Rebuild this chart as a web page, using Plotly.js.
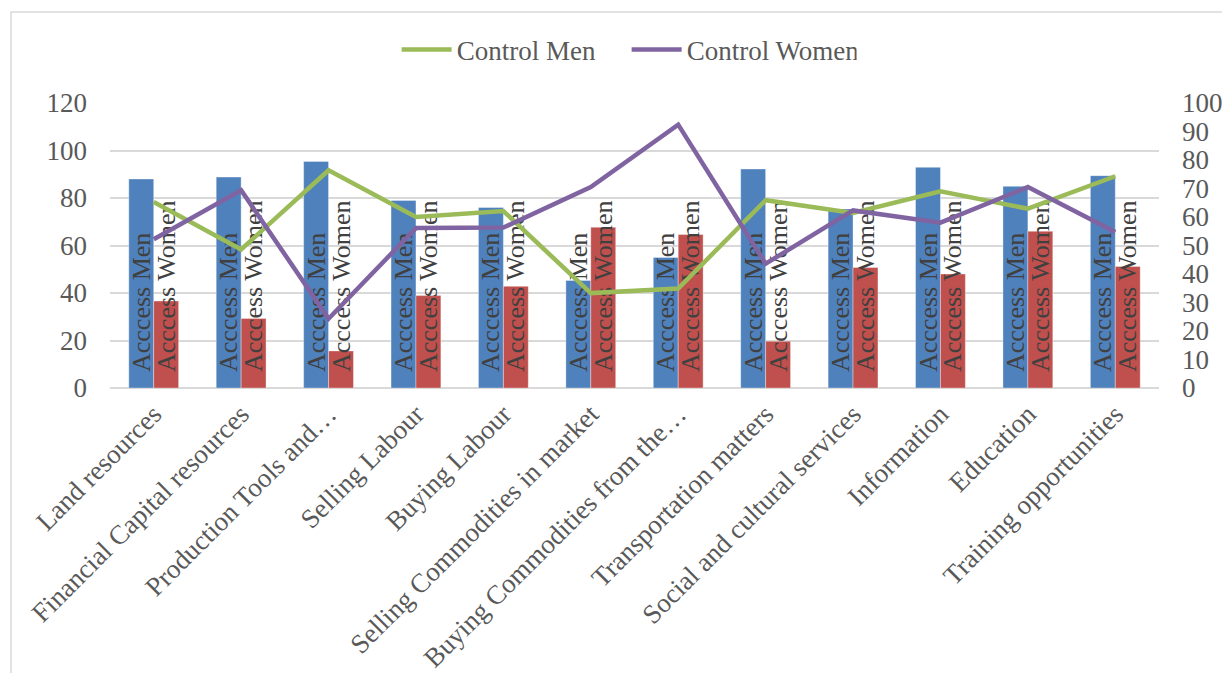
<!DOCTYPE html>
<html>
<head>
<meta charset="utf-8">
<script src="https://cdn.plot.ly/plotly-3.0.1.min.js"></script>
<style>
  html, body { margin: 0; padding: 0; background: #ffffff; }
  #chart { width: 1222px; height: 673px; }
</style>
</head>
<body>
<div id="chart"></div>
<script>
const categories = [
  "Land resources",
  "Financial Capital resources",
  "Production Tools and\u2026",
  "Selling Labour",
  "Buying Labour",
  "Selling Commodities in market",
  "Buying Commodities from the\u2026",
  "Transportation matters",
  "Social and cultural services",
  "Information",
  "Education",
  "Training opportunities"
];
const accessMen    = [88.0, 88.8, 95.4, 79.0, 76.0, 45.3, 55.0, 92.2, 75.4, 92.9, 84.9, 89.4];
const accessWomen  = [36.6, 29.3, 15.6, 38.9, 42.8, 67.7, 64.6, 19.7, 50.7, 48.0, 66.0, 51.2];
const controlMen   = [65.3, 48.6, 76.4, 60.0, 62.1, 33.3, 34.9, 65.9, 61.4, 69.0, 62.9, 74.3];
const controlWomen = [52.2, 69.4, 24.3, 56.1, 56.3, 70.5, 92.4, 43.6, 62.3, 58.0, 70.5, 54.7];
const menLabel = "Acccess Men";
const womenLabel = "Acccess Women";
const leftTicks = [0, 20, 40, 60, 80, 100, 120];
const rightTicks = [0, 10, 20, 30, 40, 50, 60, 70, 80, 90, 100];

const FONT = '"Liberation Serif", "Times New Roman", serif';
const TXT = '#595959';
const PADTXT = '\u00a0\u00a0';

function barTrace(vals, color, label, name) {
  return {
    type: 'bar', x: categories, y: vals, name: name, showlegend: false,
    marker: { color: color, line: { color: 'rgba(255,255,255,0.35)', width: 1 } },
    text: vals.map(function () { return PADTXT + label; }),
    textposition: 'inside', insidetextanchor: 'start', textangle: -90,
    constraintext: 'none', cliponaxis: false,
    insidetextfont: { family: FONT, size: 26, color: '#404040' },
    hoverinfo: 'y'
  };
}

const traces = [
  barTrace(accessMen, '#4F81BD', menLabel, 'Access Men'),
  barTrace(accessWomen, '#C0504D', womenLabel, 'Access Women'),
  {
    type: 'scatter', mode: 'lines', x: categories, y: controlMen, name: 'Control Men',
    yaxis: 'y2', line: { color: '#9BBB59', width: 4.5 }
  },
  {
    type: 'scatter', mode: 'lines', x: categories, y: controlWomen, name: 'Control Women',
    yaxis: 'y2', line: { color: '#8064A2', width: 4.5 }
  }
];

const L = 110, R = 63, T = 103, B = 285;
const PW = 1222 - L - R, PH = 673 - T - B;
const plotBottom = T + PH;
const bx0 = (11 - L) / PW, by0 = (plotBottom - 12) / PH;
const bx1 = (1240 - L) / PW, byb = (plotBottom - 700) / PH;

const layout = {
  width: 1222, height: 673,
  margin: { l: L, r: R, t: T, b: B, pad: 0 },
  paper_bgcolor: '#ffffff', plot_bgcolor: 'rgba(0,0,0,0)',
  font: { family: FONT, size: 27, color: TXT },
  barmode: 'group', bargap: 0.43, bargroupgap: 0,
  uniformtext: { mode: false },
  showlegend: true,
  legend: {
    orientation: 'h', x: 0.4925, xanchor: 'center', y: 1.186, yanchor: 'middle',
    font: { family: FONT, size: 27, color: TXT }, bgcolor: 'rgba(0,0,0,0)',
    traceorder: 'normal', entrywidth: 165, entrywidthmode: 'pixels', itemwidth: 50
  },
  xaxis: {
    type: 'category', tickangle: -45, showgrid: false, zeroline: false,
    showline: false, ticks: '', tickfont: { family: FONT, size: 27, color: TXT },
    ticklabelstandoff: 4
  },
  yaxis: {
    range: [0, 120], tickvals: leftTicks, ticktext: leftTicks.map(String),
    showgrid: true, gridcolor: '#d9d9d9', gridwidth: 1.5,
    zeroline: true, zerolinecolor: '#d9d9d9', zerolinewidth: 1.5,
    showline: false, ticks: '', ticklabelstandoff: 22,
    tickfont: { family: FONT, size: 27, color: TXT }
  },
  yaxis2: {
    overlaying: 'y', side: 'right', range: [0, 100],
    tickvals: rightTicks, ticktext: rightTicks.map(String),
    showgrid: false, zeroline: false, showline: false, ticks: '',
    ticklabelstandoff: 22,
    tickfont: { family: FONT, size: 27, color: TXT }
  },
  shapes: [{
    type: 'path', xref: 'paper', yref: 'paper', layer: 'below',
    path: 'M ' + bx0 + ' ' + byb + ' L ' + bx0 + ' ' + by0 + ' L ' + bx1 + ' ' + by0,
    line: { color: '#d9d9d9', width: 1.5 }
  }]
};

Plotly.newPlot('chart', traces, layout, { displayModeBar: false, responsive: false });
</script>
</body>
</html>
